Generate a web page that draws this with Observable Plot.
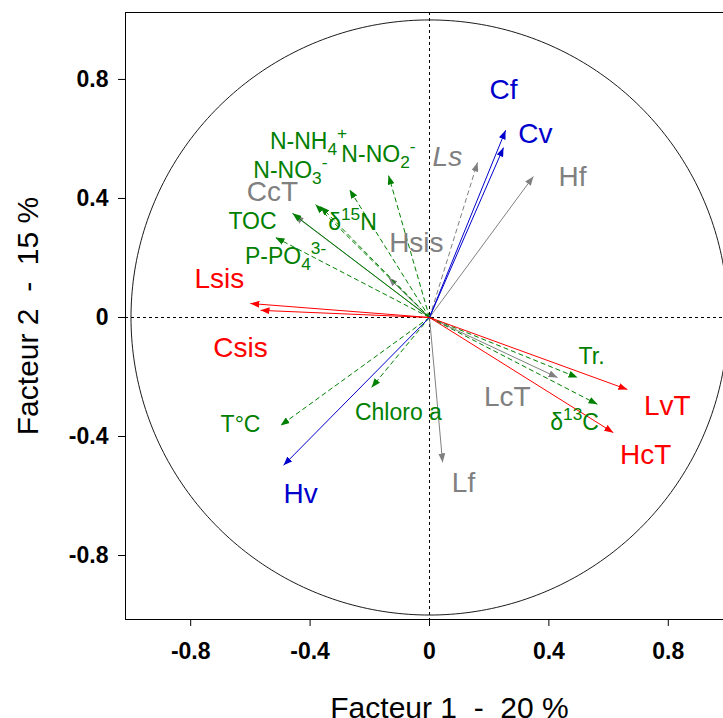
<!DOCTYPE html>
<html><head><meta charset="utf-8">
<script src="https://cdn.jsdelivr.net/npm/d3@7"></script>
<script src="https://cdn.jsdelivr.net/npm/@observablehq/plot@0.6"></script>
<style>
html,body{margin:0;padding:0;overflow:hidden;background:#fff;}
#chart svg{display:block;}
</style></head><body><div id="chart"></div>
<script>
// ---- data (correlation circle, factors 1 & 2) ----
const variables = ["Cf","Cv","Ls","Hf","N-NO2","N-NH4","N-NO3","d15N","CcT","TOC","P-PO4","Hsis","Lsis","Csis","T°C","Hv","Chloro a","Lf","LcT","Tr.","LvT","d13C","HcT"];
const labels = ["Cf","Cv","Ls","Hf","N-NO_{2}^{-}","N-NH_{4}^{+}","N-NO_{3}^{-}","δ^{15}N","CcT","TOC","P-PO_{4}^{3-}","Hsis","Lsis","Csis","T°C","Hv","Chloro a","Lf","LcT","Tr.","LvT","δ^{13}C","HcT"];
const factor1 = [0.255,0.248,0.161,0.348,-0.137,-0.268,-0.382,-0.365,-0.452,-0.459,-0.516,-0.137,-0.600,-0.566,-0.499,-0.489,-0.194,0.044,0.429,0.496,0.663,0.563,0.616];
const factor2 = [0.629,0.571,0.521,0.474,0.477,0.430,0.380,0.373,0.343,0.350,0.269,0.134,0.047,0.024,-0.363,-0.497,-0.235,-0.487,-0.202,-0.202,-0.242,-0.292,-0.387];
const labelF1 = [0.248,0.355,0.060,0.479,-0.171,-0.405,-0.466,-0.258,-0.526,-0.593,-0.482,-0.044,-0.704,-0.633,-0.633,-0.432,-0.104,0.114,0.261,0.543,0.797,0.486,0.724];
const labelF2 = [0.763,0.618,0.538,0.471,0.548,0.592,0.494,0.319,0.420,0.323,0.205,0.249,0.128,-0.101,-0.360,-0.592,-0.319,-0.558,-0.269,-0.131,-0.296,-0.353,-0.461];
const groups = ["A","A","C","C","E","E","E","E","C","E","E","C","B","B","E","A","E","C","C","E","B","E","B"];
const supplementary = [false,false,true,false,true,true,true,true,false,false,true,false,false,false,true,false,true,false,false,true,false,true,false];
const axisTicks = [-0.8,-0.4,0,0.4,0.8];
const xTitle = "Facteur 1\u00a0\u00a0-\u00a0\u00a020 %";
const yTitle = "Facteur 2\u00a0\u00a0-\u00a0\u00a015 %";
const xLimits = [-1.0184, 0.985];
const yLimits = [-1.015, 1.025];

const rows = variables.map((v,i)=>({v, label: labels[i], f1: factor1[i], f2: factor2[i], lx: labelF1[i], ly: labelF2[i], group: groups[i], sup: supplementary[i]}));
const colorOf = {A:"#0000cd", B:"#ff0000", C:"#808080", E:"#008000"};
const circle = d3.range(0, 361).map(a => ({cx: Math.cos(a*Math.PI/180), cy: Math.sin(a*Math.PI/180)}));
const fmt = d => d === 0 ? "0" : String(d);

function headMarker(color) {
  const m = d3.create("svg:marker")
    .attr("viewBox","-9 -3.5 9 7").attr("markerWidth",9).attr("markerHeight",7)
    .attr("markerUnits","userSpaceOnUse").attr("refX",0).attr("refY",0).attr("orient","auto");
  m.append("path").attr("d","M-9,-3.5L0,0L-9,3.5Z").attr("fill",color).attr("stroke","none").attr("stroke-dasharray","none");
  return m.node();
}

function build(useMarker) {
  const vecMarks = [];
  for (const g of ["C","E","A","B"]) for (const dashed of [false,true]) {
    const d = rows.filter(r => r.group === g && r.sup === dashed);
    if (!d.length) continue;
    const opts = {x1: 0, y1: 0, x2: "f1", y2: "f2", stroke: colorOf[g], strokeWidth: 1, strokeDasharray: dashed ? "5,3" : undefined};
    if (useMarker) vecMarks.push(Plot.link(d, {...opts, markerEnd: headMarker}));
    else vecMarks.push(Plot.arrow(d, {...opts, headLength: 8, headAngle: 40}));
  }
  return Plot.plot({
    width: 723, height: 718,
    marginLeft: 125, marginRight: 0, marginTop: 12, marginBottom: 99,
    x: {domain: xLimits},
    y: {domain: yLimits},
    color: {type: "identity"},
    style: {fontFamily: "'Liberation Sans', Arial, sans-serif", background: "white", color: "black"},
    marks: [
      Plot.ruleX([0], {stroke: "black", strokeDasharray: "3,3", strokeWidth: 1}),
      Plot.ruleY([0], {stroke: "black", strokeDasharray: "3,3", strokeWidth: 1}),
      Plot.line(circle, {x: "cx", y: "cy", stroke: "black", strokeWidth: 0.9, clip: true}),
      ...vecMarks,
      Plot.text(rows.filter(r => r.v !== "Ls"), {x: "lx", y: "ly", text: "label", fill: r => colorOf[r.group], fontSize: r => r.group === "E" ? 23 : 28}),
      Plot.text(rows.filter(r => r.v === "Ls"), {x: "lx", y: "ly", text: "label", fill: r => colorOf[r.group], fontSize: 28, fontStyle: "italic"}),
      Plot.ruleX([xLimits[0]], {stroke: "black", strokeWidth: 1}),
      Plot.ruleY(yLimits, {stroke: "black", strokeWidth: 1}),
      Plot.axisX({ticks: axisTicks, tickFormat: fmt, tickSize: 7, tickPadding: 16, fontSize: 23, fontWeight: "bold", label: null}),
      Plot.axisY({ticks: axisTicks, tickFormat: fmt, tickSize: 7, tickPadding: 10, fontSize: 23, fontWeight: "bold", label: null}),
      Plot.text([xTitle], {frameAnchor: "bottom", dx: 25, dy: 89, fontSize: 30, lineAnchor: "middle", textAnchor: "middle", fill: "black"}),
      Plot.text([yTitle], {frameAnchor: "left", dx: -97, rotate: -90, fontSize: 30, lineAnchor: "middle", textAnchor: "middle", fill: "black"})
    ]
  });
}

let chart;
try { chart = build(true); } catch (e) { chart = build(false); }
document.getElementById("chart").appendChild(chart);

// sub/superscript rendering of labels
chart.querySelectorAll("text").forEach(t => {
  const s = t.textContent;
  if (!/[_^]\{/.test(s)) return;
  const fs = parseFloat(getComputedStyle(t).fontSize) || 23;
  t.textContent = "";
  const re = /([_^])\{([^}]*)\}|([^_^]+)/g;
  let m, cur = 0;
  while ((m = re.exec(s))) {
    const ts = document.createElementNS("http://www.w3.org/2000/svg", "tspan");
    let target, size, txt;
    if (m[1] === "_") { target = 0.28 * fs; size = 0.75 * fs; txt = m[2]; }
    else if (m[1] === "^") { target = -0.42 * fs; size = 0.75 * fs; txt = m[2]; }
    else { target = 0; size = fs; txt = m[3]; }
    ts.textContent = txt;
    ts.setAttribute("dy", (target - cur).toFixed(2));
    ts.setAttribute("font-size", size.toFixed(1));
    cur = target;
    t.appendChild(ts);
  }
});
</script>
</body></html>
